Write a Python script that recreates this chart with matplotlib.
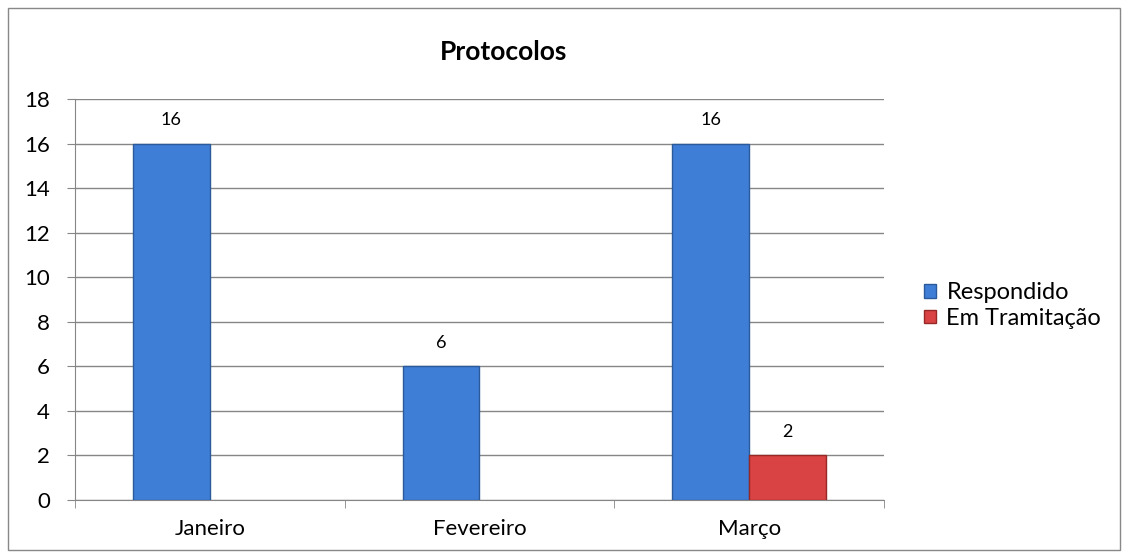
import numpy as np
import matplotlib.pyplot as plt
from matplotlib.patches import Rectangle

# Dados
meses = ['Janeiro', 'Fevereiro', 'Março']
respondido = [16, 6, 16]
em_tramitacao = [0, 0, 2]
series = ['Respondido', 'Em Tramitação']

plt.rcParams['font.family'] = ['Lato', 'DejaVu Sans']

fig = plt.figure(figsize=(11.28, 5.58), dpi=100)
ax = fig.add_axes([75/1128, 58/558, 809/1128, 401/558])

# moldura externa
fig.patches.append(Rectangle((8/1128, 8/558), 1112/1128, 542/558, transform=fig.transFigure,
                             fill=False, edgecolor='#888888', linewidth=1))

x = np.arange(len(meses))
w = 0.285
r = np.where(np.array(respondido) > 0, respondido, np.nan)
t = np.where(np.array(em_tramitacao) > 0, em_tramitacao, np.nan)
b1 = ax.bar(x - w/2, r, w, color='#3F7ED6', edgecolor='#2A5A9A', linewidth=1, label=series[0], zorder=3)
b2 = ax.bar(x + w/2, t, w, color='#D94343', edgecolor='#962828', linewidth=1, label=series[1], zorder=3)

for xs, vals in [(x - w/2, respondido), (x + w/2, em_tramitacao)]:
    for xi, v in zip(xs, vals):
        if v:
            ax.annotate(str(v), (xi, v), xytext=(0, 11),
                        textcoords='offset points', ha='center', va='bottom', fontsize=13)

ax.set_xlim(-0.5, 2.5)
ax.set_ylim(0, 18)
ax.set_yticks(range(0, 19, 2))
ax.yaxis.grid(True, color='#868686', linewidth=1, zorder=0)
ax.set_axisbelow(True)
ax.set_xticks(x)
ax.set_xticklabels(meses, fontsize=16)
ax.tick_params(axis='x', length=0, pad=14)
ax.set_xticks([-0.5, 0.5, 1.5, 2.5], minor=True)
ax.tick_params(axis='x', which='minor', length=6, color='#868686')
ax.tick_params(axis='y', labelsize=16, length=6, color='#868686', pad=12)
for s in ['top', 'right']:
    ax.spines[s].set_visible(False)
for s in ['left', 'bottom']:
    ax.spines[s].set_color('#868686')

fig.text(504/1128, 1 - 52/558, 'Protocolos', fontsize=19, fontweight='bold', ha='center', va='center')

ax.legend(loc='center left', bbox_to_anchor=(1 + (924-884)/809, 0.485), frameon=False, fontsize=17,
          borderpad=0, borderaxespad=0,
          handlelength=0.5, handleheight=0.5, handletextpad=0.45, labelspacing=0.18)

fig.savefig('out.png', dpi=100)
